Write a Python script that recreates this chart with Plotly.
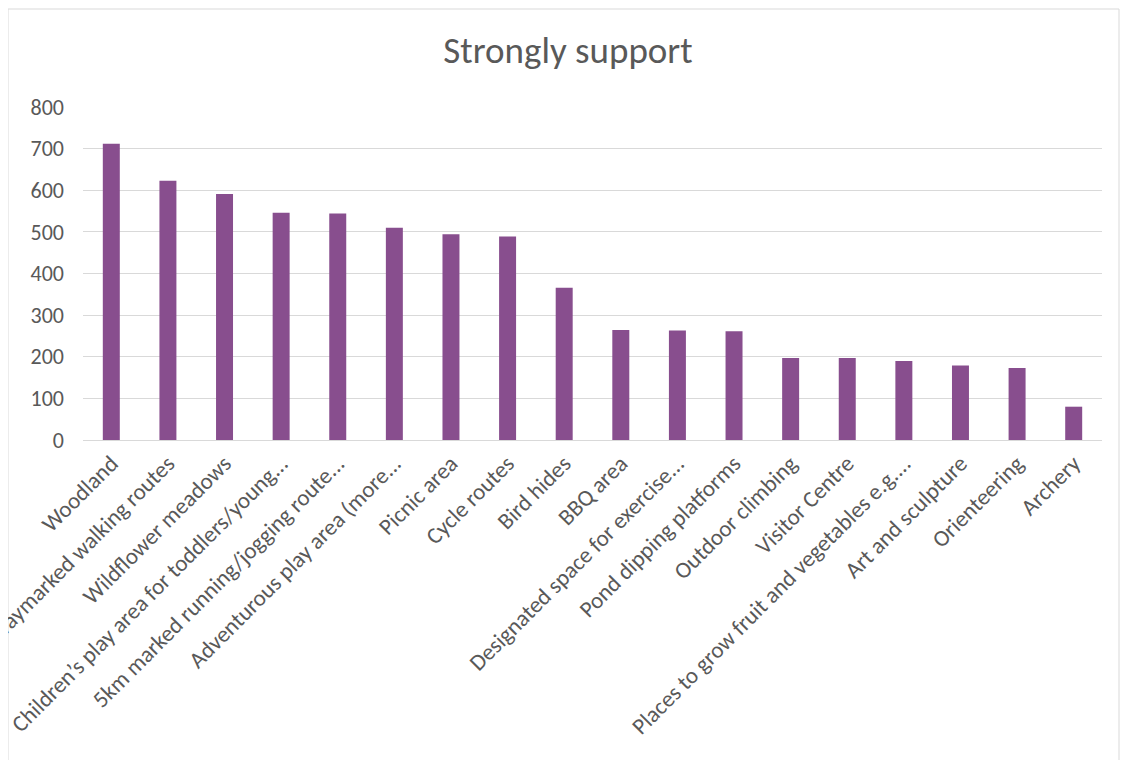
import plotly.graph_objects as go

categories = [
    "Woodland",
    "Waymarked walking routes",
    "Wildflower meadows",
    "Children\u2019s play area for toddlers/young...",
    "5km marked running/jogging route...",
    "Adventurous play area (more...",
    "Picnic area",
    "Cycle routes",
    "Bird hides",
    "BBQ area",
    "Designated space for exercise...",
    "Pond dipping platforms",
    "Outdoor climbing",
    "Visitor Centre",
    "Places to grow fruit and vegetables e.g....",
    "Art and sculpture",
    "Orienteering",
    "Archery",
]
values = [712, 623, 591, 546, 544, 510, 494, 489, 366, 264, 263, 261, 197, 197, 190, 179, 173, 80]

title_text = "Strongly support"
bar_color = "#884E8E"
text_color = "#595959"
grid_color = "#D9D9D9"
font_family = "Carlito, Calibri, Lato, 'Open Sans', sans-serif"

fig = go.Figure(
    go.Bar(
        x=categories,
        y=values,
        marker=dict(color=bar_color, line=dict(width=0)),
        width=0.3,
    )
)

W, H = 1120, 752
L, R, T, B = 75, 26, 99, 320
pw = W - L - R
ph = H - T - B

fig.update_layout(
    width=W,
    height=H,
    paper_bgcolor="white",
    plot_bgcolor="white",
    margin=dict(l=L, r=R, t=T, b=B),
    showlegend=False,
    font=dict(family=font_family, color=text_color, size=22),
    title=dict(
        text=title_text,
        x=0.5,
        xanchor="center",
        y=1 - 42 / H,
        yanchor="middle",
        font=dict(size=37, color=text_color, family=font_family),
    ),
    shapes=[
        dict(
            type="rect", xref="paper", yref="paper",
            x0=-L / pw, x1=1 + 17 / pw, y0=-2, y1=1 + (T - 1) / ph,
            line=dict(color="#D9D9D9", width=1), fillcolor="rgba(0,0,0,0)",
            layer="below",
        )
    ],
)

fig.update_xaxes(
    tickangle=-45,
    showgrid=False,
    showline=True,
    linecolor=grid_color,
    linewidth=1,
    ticks="",
    ticklabelstandoff=0,
    tickfont=dict(size=23, color=text_color),
    automargin=False,
)
fig.update_yaxes(
    range=[0, 800],
    dtick=100,
    showgrid=True,
    gridcolor=grid_color,
    gridwidth=1,
    zeroline=False,
    showline=False,
    ticks="",
    ticklabelstandoff=18,
    tickfont=dict(size=22, color=text_color),
    automargin=False,
)

fig.write_html("out.html")
